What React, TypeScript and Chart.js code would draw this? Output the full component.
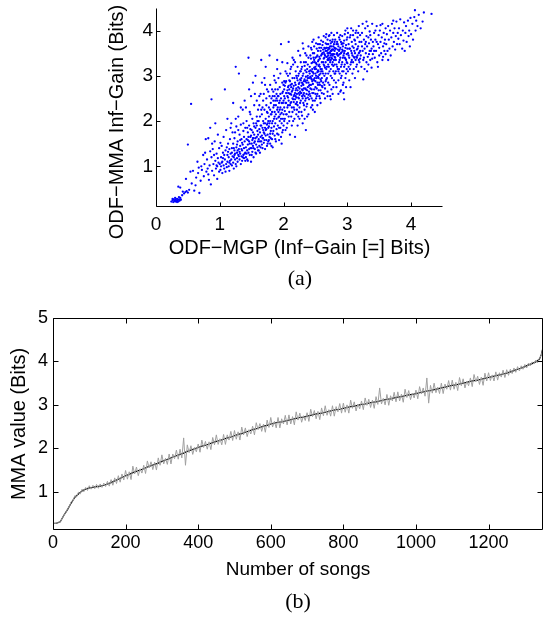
import React, { useEffect, useRef } from "react";
import { Chart, registerables } from "chart.js";
Chart.register(...registerables);

// ---------------- (a) scatter: ODF-MGP vs ODF-MMA ----------------
const scatterA: [number, number][] = [
[0.24,0.22],[0.26,0.25],[0.27,0.21],[0.28,0.27],[0.29,0.24],[0.30,0.22],[0.31,0.26],[0.32,0.23],[0.33,0.28],[0.34,0.25],[0.35,0.22],[0.36,0.27],[0.37,0.24],[0.38,0.30],[0.30,0.30],[0.26,0.28],[0.33,0.21],[0.36,0.32],[0.39,0.26],[0.35,0.55],[0.38,0.53],[0.42,0.44],[0.44,0.40],[0.41,0.36],[0.46,0.43],
[0.48,0.45],[0.50,0.42],[0.52,0.48],[0.47,0.72],[0.50,1.48],[0.55,2.38],[0.54,0.88],[0.58,0.90],[0.56,0.62],[0.60,0.46],[0.62,0.58],[0.63,0.75],[0.65,1.10],[0.66,0.85],[0.68,0.41],[0.70,0.68],[0.71,1.00],[0.72,0.92],[0.74,1.25],[0.75,0.78],[0.76,1.05],[0.78,1.60],[0.79,0.88],[0.77,1.30],[0.67,0.97],
[0.80,1.15],[0.81,0.95],[0.82,1.62],[0.83,0.70],[0.84,1.02],[0.85,1.85],[0.86,0.60],[0.87,2.48],[0.87,1.20],[0.88,0.90],[0.89,1.38],[0.90,1.05],[0.91,0.80],[0.92,1.55],[0.93,1.12],[0.94,0.95],[0.95,1.28],[0.96,1.00],[0.97,1.70],[0.98,1.08],[0.99,0.88],[0.99,1.40],[0.96,0.72],[0.93,1.95],[0.85,1.33],[0.82,0.82],[0.97,1.18],[0.91,1.25],[0.88,1.50],[0.95,1.02],
[1.00,1.05],[1.01,0.92],[1.02,1.20],[1.02,1.00],[1.03,1.45],[1.04,0.85],[1.04,1.10],[1.05,1.30],[1.06,1.02],[1.06,1.65],[1.07,0.95],[1.08,2.70],[1.08,1.15],[1.09,1.35],[1.10,1.05],[1.10,1.80],[1.11,0.98],[1.12,1.25],[1.12,1.10],[1.13,1.50],[1.14,1.00],[1.14,1.20],[1.15,1.38],[1.15,0.90],[1.16,1.12],[1.16,1.60],[1.17,1.05],[1.17,1.28],[1.18,1.95],[1.18,1.15],[1.19,1.40],[1.19,1.02],[1.20,1.22],[1.20,1.75],[1.05,1.18],[1.09,0.88],[1.13,1.32],[1.01,1.52],[1.07,1.25],[1.11,1.42],[1.15,1.08],[1.19,1.30],[1.03,1.08],[1.17,1.85],[1.12,2.05],
[1.21,1.08],[1.21,1.50],[1.22,1.20],[1.22,0.95],[1.23,1.35],[1.23,1.62],[1.24,1.15],[1.24,1.28],[1.25,3.20],[1.25,1.05],[1.26,1.42],[1.26,1.88],[1.27,1.18],[1.27,1.30],[1.28,1.55],[1.28,1.10],[1.29,1.25],[1.29,2.10],[1.30,1.38],[1.30,3.05],[1.31,1.15],[1.31,1.70],[1.32,1.28],[1.32,1.45],[1.33,1.05],[1.33,1.92],[1.34,1.22],[1.34,1.60],[1.35,1.35],[1.35,1.12],[1.36,1.48],[1.36,2.25],[1.37,1.25],[1.37,1.78],[1.38,1.40],[1.38,1.18],[1.39,1.55],[1.39,2.45],[1.40,1.30],[1.40,1.85],[1.22,1.40],[1.24,1.75],[1.26,1.00],[1.28,1.35],[1.30,1.22],[1.32,1.58],[1.34,1.38],[1.36,1.20],[1.38,1.65],[1.40,1.12],[1.23,1.25],[1.27,1.48],[1.31,1.32],[1.35,1.52],[1.39,1.28],[1.29,1.80],[1.33,2.30],[1.37,1.95],[1.25,2.05],[1.21,2.40],
];
const scatterB: [number, number][] = [
[1.41,1.42],[1.41,1.20],[1.42,1.60],[1.42,2.00],[1.43,1.35],[1.43,1.15],[1.44,1.75],[1.44,1.48],[1.45,3.40],[1.45,1.30],[1.46,1.90],[1.46,1.55],[1.47,1.25],[1.47,2.20],[1.48,1.40],[1.48,1.65],[1.49,1.10],[1.49,2.55],[1.50,1.50],[1.50,1.80],[1.51,1.32],[1.51,2.05],[1.52,1.62],[1.52,1.45],[1.53,1.20],[1.53,1.95],[1.54,1.70],[1.54,2.35],[1.55,1.38],[1.55,1.55],[1.56,1.85],[1.56,3.00],[1.57,1.48],[1.57,1.28],[1.58,2.10],[1.58,1.65],[1.59,1.42],[1.59,1.78],[1.60,2.25],[1.60,1.55],[1.42,1.28],[1.44,1.58],[1.46,1.38],[1.48,1.82],[1.50,1.25],[1.52,1.75],[1.54,1.52],[1.56,1.30],[1.58,1.90],[1.60,1.35],[1.43,1.85],[1.45,1.65],[1.47,1.50],[1.49,1.68],[1.51,1.58],[1.53,1.40],[1.55,2.60],[1.57,1.95],[1.59,2.00],[1.41,2.30],[1.46,2.70],[1.52,2.85],[1.58,2.45],[1.50,1.40],[1.54,1.88],[1.48,2.15],[1.56,1.62],[1.44,1.12],[1.60,1.70],[1.53,1.62],
[1.61,1.60],[1.61,2.00],[1.62,1.45],[1.62,2.35],[1.63,1.75],[1.63,1.30],[1.64,1.90],[1.64,2.60],[1.65,1.55],[1.65,3.35],[1.66,1.68],[1.66,2.15],[1.67,1.40],[1.67,1.85],[1.68,2.45],[1.68,1.62],[1.69,1.95],[1.69,1.52],[1.70,2.25],[1.70,1.72],[1.71,1.38],[1.71,2.80],[1.72,1.80],[1.72,2.05],[1.73,1.58],[1.73,2.50],[1.74,1.92],[1.74,1.45],[1.75,2.18],[1.75,1.70],[1.76,2.65],[1.76,1.55],[1.77,1.88],[1.77,2.30],[1.78,1.65],[1.78,3.45],[1.79,2.00],[1.79,1.50],[1.80,2.40],[1.80,1.78],[1.62,1.82],[1.64,1.65],[1.66,1.48],[1.68,2.00],[1.70,1.58],[1.72,1.68],[1.74,2.20],[1.76,1.85],[1.78,1.95],[1.80,1.62],[1.63,2.10],[1.65,1.90],[1.67,2.30],[1.69,1.75],[1.71,1.95],[1.73,1.82],[1.75,1.50],[1.77,2.10],[1.79,1.72],[1.61,1.35],[1.66,2.85],[1.70,2.95],[1.74,2.70],[1.78,2.55],[1.72,3.20],[1.64,1.42],[1.68,1.80],[1.76,2.00],[1.80,2.15],[1.62,2.55],[1.67,1.62],[1.73,2.35],[1.79,2.80],[1.71,1.85],[1.75,1.95],[1.69,2.60],[1.77,1.58],[1.65,2.25],[1.63,1.55],[1.79,2.25],
[1.81,1.85],[1.81,2.50],[1.82,1.60],[1.82,2.20],[1.83,2.00],[1.83,1.42],[1.84,2.65],[1.84,1.78],[1.85,2.35],[1.85,2.05],[1.86,1.68],[1.86,2.90],[1.87,1.95],[1.87,2.45],[1.88,1.55],[1.88,2.15],[1.89,2.60],[1.89,1.82],[1.90,3.15],[1.90,2.25],[1.91,1.90],[1.91,2.55],[1.92,1.70],[1.92,2.08],[1.93,2.40],[1.93,1.58],[1.94,2.75],[1.94,2.00],[1.95,1.85],[1.95,2.30],[1.96,3.70],[1.96,2.50],[1.97,1.95],[1.97,2.18],[1.98,2.62],[1.98,1.75],[1.99,2.40],[1.99,2.05],[2.00,2.80],[2.00,1.90],[1.82,1.95],[1.84,2.30],[1.86,2.10],[1.88,2.35],[1.90,1.72],[1.92,2.55],[1.94,2.25],[1.96,1.65],[1.98,2.85],[2.00,2.15],[1.81,2.15],[1.83,2.55],[1.85,1.88],[1.87,2.70],[1.89,2.05],[1.91,2.30],[1.93,2.10],[1.95,2.60],[1.97,2.40],[1.99,1.80],[1.85,3.00],[1.90,3.35],[1.95,3.05],[1.88,2.85],[1.92,2.95],[1.98,3.30],[1.83,1.72],[1.87,1.60],[1.93,1.85],[1.97,1.50],[1.84,2.45],[1.86,2.20],[1.90,2.45],[1.94,2.45],[1.96,2.05],[2.00,2.45],[1.82,2.70],[1.89,2.50],[1.91,2.70],[1.99,2.65],[1.95,2.15],[1.86,2.55],[1.92,2.20],[1.98,2.25],[1.81,1.45],
[2.01,2.30],[2.01,2.70],[2.02,2.05],[2.02,2.50],[2.03,2.85],[2.03,1.80],[2.04,2.40],[2.04,2.62],[2.05,2.15],[2.05,3.05],[2.06,2.55],[2.06,1.95],[2.07,2.75],[2.07,2.35],[2.08,3.75],[2.08,2.45],[2.09,2.20],[2.09,2.90],[2.10,2.60],[2.10,1.70],[2.11,2.40],[2.11,2.80],[2.12,2.10],[2.12,3.20],[2.13,2.65],[2.13,2.30],[2.14,2.95],[2.14,2.50],[2.15,2.00],[2.15,2.72],[2.16,2.42],[2.16,3.35],[2.17,2.58],[2.17,2.25],[2.18,2.85],[2.18,1.65],[2.19,2.68],[2.19,2.38],[2.20,3.00],[2.20,2.52],[2.02,2.22],[2.04,2.88],[2.06,2.68],[2.08,2.10],[2.10,2.35],[2.12,2.58],[2.14,2.20],[2.16,2.78],[2.18,2.48],[2.20,2.15],[2.01,2.55],[2.03,2.40],[2.05,2.62],[2.07,2.52],[2.09,2.70],[2.11,2.60],[2.13,2.82],[2.15,2.48],[2.17,2.95],[2.19,2.80],[2.03,3.10],[2.07,3.00],[2.11,3.15],[2.15,3.25],[2.19,3.10],[2.05,1.85],[2.09,2.00],[2.13,1.90],[2.17,2.05],[2.01,2.00],[2.06,2.30],[2.10,2.88],[2.14,2.68],[2.18,2.62],[2.02,2.78],[2.08,2.62],[2.12,2.42],[2.16,2.55],[2.20,2.72],[2.04,2.15],[2.06,3.28],[2.10,3.05],[2.14,3.40],[2.18,3.30],[2.12,2.75],[2.16,2.30],[2.08,2.78],[2.20,2.38],[2.01,2.88],[2.19,2.55],
[2.21,2.60],[2.21,2.95],[2.22,2.35],[2.22,3.20],[2.23,2.75],[2.23,2.10],[2.24,2.50],[2.24,3.05],[2.25,2.85],[2.25,2.30],[2.26,3.45],[2.26,2.65],[2.27,2.45],[2.27,2.90],[2.28,2.20],[2.28,3.15],[2.29,2.70],[2.29,2.55],[2.30,3.00],[2.30,1.95],[2.31,2.80],[2.31,2.40],[2.32,3.30],[2.32,2.62],[2.33,2.92],[2.33,2.25],[2.34,2.72],[2.34,3.50],[2.35,2.50],[2.35,1.80],[2.36,3.08],[2.36,2.85],[2.37,2.38],[2.37,2.68],[2.38,3.25],[2.38,2.95],[2.39,2.58],[2.39,2.15],[2.40,3.10],[2.40,2.78],[2.22,2.68],[2.24,2.82],[2.26,2.40],[2.28,2.62],[2.30,2.50],[2.32,2.88],[2.34,2.45],[2.36,2.60],[2.38,2.75],[2.40,2.48],[2.21,2.25],[2.23,3.00],[2.25,2.58],[2.27,3.10],[2.29,2.85],[2.31,3.05],[2.33,2.55],[2.35,2.98],[2.37,2.90],[2.39,3.40],[2.22,2.90],[2.24,2.20],[2.26,2.92],[2.28,2.78],[2.30,2.68],[2.32,2.35],[2.34,3.12],[2.36,2.32],[2.38,2.52],[2.40,2.95],[2.23,3.55],[2.27,3.30],[2.31,3.60],[2.35,3.30],[2.39,3.65],[2.25,2.05],[2.29,2.12],[2.33,2.05],[2.37,2.10],[2.21,2.42],[2.23,2.52],[2.25,2.72],[2.27,2.62],[2.29,3.20],[2.31,2.58],[2.33,3.22],[2.35,2.70],[2.37,3.15],[2.39,2.85],[2.24,2.62],[2.26,3.10],[2.28,2.95],[2.30,2.82],[2.32,2.72],[2.34,2.88],[2.36,3.45],[2.38,3.00],[2.40,2.65],[2.30,3.72],[2.22,1.90],
];
const scatterC: [number, number][] = [
[2.41,2.80],[2.41,3.20],[2.42,2.55],[2.42,3.45],[2.43,2.95],[2.43,2.30],[2.44,3.10],[2.44,2.70],[2.45,3.75],[2.45,2.88],[2.46,2.45],[2.46,3.30],[2.47,3.05],[2.47,2.62],[2.48,3.50],[2.48,2.90],[2.49,2.20],[2.49,3.15],[2.50,2.75],[2.50,3.40],[2.51,3.00],[2.51,2.50],[2.52,3.60],[2.52,3.25],[2.53,2.85],[2.53,2.35],[2.54,3.12],[2.54,3.55],[2.55,2.68],[2.55,3.35],[2.56,3.02],[2.56,2.55],[2.57,3.70],[2.57,3.20],[2.58,2.92],[2.58,2.40],[2.59,3.45],[2.59,3.10],[2.60,2.78],[2.60,3.30],[2.42,2.98],[2.44,3.28],[2.46,2.82],[2.48,3.18],[2.50,3.05],[2.52,2.95],[2.54,2.80],[2.56,3.25],[2.58,3.15],[2.60,2.95],[2.41,2.60],[2.43,3.38],[2.45,3.15],[2.47,3.40],[2.49,2.95],[2.51,3.28],[2.53,3.08],[2.55,2.95],[2.57,2.80],[2.59,3.62],[2.42,2.72],[2.44,2.50],[2.46,3.08],[2.48,2.70],[2.50,2.60],[2.52,2.72],[2.54,3.32],[2.56,2.85],[2.58,3.55],[2.60,3.48],[2.43,3.62],[2.47,3.80],[2.51,3.72],[2.55,3.85],[2.59,3.78],[2.45,2.35],[2.49,2.45],[2.53,2.60],[2.57,2.50],[2.41,3.05],[2.43,2.80],[2.45,2.62],[2.47,2.92],[2.49,3.30],[2.51,3.15],[2.53,3.45],[2.55,3.10],[2.57,3.38],[2.59,2.88],[2.42,3.12],[2.44,2.92],[2.46,3.50],[2.48,3.35],[2.50,3.20],[2.52,3.42],[2.54,2.98],[2.56,3.42],[2.58,3.05],[2.60,3.15],[2.45,3.00],[2.55,3.22],[2.50,2.88],[2.44,3.58],[2.52,2.55],[2.58,2.68],[2.46,2.25],[2.54,3.70],[2.60,2.62],[2.48,3.65],[2.56,3.62],
[2.61,3.10],[2.61,3.50],[2.62,2.85],[2.62,3.75],[2.63,3.25],[2.63,2.60],[2.64,3.40],[2.64,3.00],[2.65,3.60],[2.65,2.72],[2.66,3.30],[2.66,3.85],[2.67,3.15],[2.67,2.92],[2.68,3.55],[2.68,3.70],[2.69,3.35],[2.69,2.55],[2.70,3.45],[2.70,3.05],[2.71,3.62],[2.71,3.20],[2.72,3.90],[2.72,2.80],[2.73,3.50],[2.73,3.30],[2.74,3.72],[2.74,3.00],[2.75,3.40],[2.75,2.70],[2.76,3.58],[2.76,3.25],[2.77,3.80],[2.77,3.45],[2.78,3.10],[2.78,3.65],[2.79,3.35],[2.79,2.90],[2.80,3.55],[2.80,3.75],[2.62,3.30],[2.64,3.62],[2.66,3.05],[2.68,3.20],[2.70,3.70],[2.72,3.40],[2.74,3.55],[2.76,3.38],[2.78,3.48],[2.80,3.25],[2.61,2.75],[2.63,3.52],[2.65,3.18],[2.67,3.42],[2.69,3.80],[2.71,3.50],[2.73,3.65],[2.75,3.55],[2.77,3.30],[2.79,3.70],[2.62,3.05],[2.64,2.80],[2.66,3.55],[2.68,2.95],[2.70,3.25],[2.72,3.10],[2.74,3.35],[2.76,2.95],[2.78,2.75],[2.80,3.05],[2.63,3.88],[2.67,3.92],[2.71,3.88],[2.75,3.95],[2.79,3.90],[2.65,2.50],[2.69,2.65],[2.73,2.55],[2.77,2.60],[2.61,3.68],[2.63,3.38],[2.65,3.45],[2.67,3.62],[2.69,3.50],[2.71,3.35],[2.73,3.78],[2.75,3.65],[2.77,3.58],[2.79,3.48],[2.62,3.58],[2.64,3.22],[2.66,3.72],[2.68,3.42],[2.70,3.58],[2.72,3.60],[2.74,3.45],[2.76,3.75],[2.78,3.58],[2.80,3.42],[2.66,2.88],[2.70,2.85],[2.74,3.15],[2.78,3.22],[2.72,3.52],[2.76,3.48],[2.68,3.62],[2.64,3.48],[2.70,3.38],[2.80,3.62],[2.74,2.48],
[2.81,3.40],[2.81,3.80],[2.82,3.10],[2.82,3.60],[2.83,3.25],[2.83,2.75],[2.84,3.50],[2.84,3.95],[2.85,3.15],[2.85,3.70],[2.86,2.90],[2.86,3.45],[2.87,3.30],[2.87,3.85],[2.88,3.05],[2.88,3.58],[2.89,2.65],[2.89,3.40],[2.90,3.75],[2.90,3.20],[2.91,3.00],[2.91,3.52],[2.92,3.88],[2.92,3.30],[2.93,2.80],[2.93,3.65],[2.94,3.10],[2.94,3.45],[2.95,2.48],[2.95,3.78],[2.96,3.25],[2.96,3.55],[2.97,2.95],[2.97,4.00],[2.98,3.35],[2.98,3.68],[2.99,3.15],[2.99,3.48],[3.00,3.85],[3.00,3.28],[2.82,3.35],[2.84,3.20],[2.86,3.65],[2.88,3.35],[2.90,3.50],[2.92,3.10],[2.94,3.72],[2.96,3.40],[2.98,3.05],[3.00,3.60],[2.81,3.05],[2.83,3.70],[2.85,3.45],[2.87,3.55],[2.89,3.90],[2.91,3.25],[2.93,3.40],[2.95,3.20],[2.97,3.62],[2.99,3.80],[2.82,2.85],[2.86,3.10],[2.90,2.95],[2.94,2.85],[2.98,2.75],[2.84,3.75],[2.88,3.80],[2.92,3.72],[2.96,3.92],[3.00,4.05],[2.81,3.60],[2.85,3.58],[2.89,3.62],[2.93,3.55],[2.97,3.38],[2.83,3.48],[2.87,3.15],[2.91,3.70],[2.95,3.50],[2.99,3.30],[2.86,2.60],[2.90,2.68],[2.94,2.62],[2.88,3.48],[2.92,3.58],
[3.01,3.50],[3.01,3.95],[3.02,3.20],[3.02,3.70],[3.03,2.90],[3.03,3.40],[3.04,3.85],[3.04,3.60],[3.05,3.25],[3.05,2.75],[3.06,3.55],[3.06,4.05],[3.07,3.35],[3.07,3.75],[3.08,3.05],[3.08,3.45],[3.09,3.90],[3.09,3.30],[3.10,3.62],[3.10,3.15],[3.11,3.40],[3.11,3.80],[3.12,3.50],[3.12,2.95],[3.13,3.70],[3.13,3.35],[3.14,4.00],[3.14,3.42],[3.15,3.25],[3.15,3.58],[3.16,3.85],[3.16,3.45],[3.17,3.10],[3.17,3.65],[3.18,3.50],[3.18,4.10],[3.19,3.30],[3.19,3.75],[3.20,3.55],[3.20,3.38],[3.02,3.45],[3.04,3.15],[3.06,3.30],[3.08,3.65],[3.10,3.42],[3.12,3.78],[3.14,3.20],[3.16,3.60],[3.18,3.35],[3.20,3.90],[3.03,3.60],[3.07,3.50],[3.11,3.55],[3.15,3.40],[3.19,3.52],[3.05,3.90],[3.09,4.00],[3.13,3.95],[3.17,3.95],[3.01,3.10],
[3.21,3.45],[3.22,3.75],[3.22,3.20],[3.23,3.95],[3.24,3.55],[3.25,2.92],[3.25,3.35],[3.26,3.80],[3.27,3.60],[3.27,3.15],[3.28,4.05],[3.29,3.50],[3.30,3.30],[3.30,3.88],[3.31,3.65],[3.32,3.42],[3.32,4.10],[3.33,3.25],[3.34,3.72],[3.35,3.55],[3.35,3.98],[3.36,3.35],[3.37,3.80],[3.38,3.60],[3.38,3.18],[3.39,4.15],[3.40,3.48],[3.40,3.75],[3.23,3.65],[3.26,3.40],[3.29,3.75],[3.31,3.10],[3.34,3.48],[3.36,3.90],[3.39,3.38],[3.24,4.15],[3.28,3.70],[3.33,3.85],[3.37,3.55],[3.30,4.20],
[3.41,3.65],[3.42,3.95],[3.43,3.40],[3.44,3.80],[3.45,3.55],[3.46,4.10],[3.47,3.30],[3.48,3.70],[3.49,3.90],[3.50,3.45],[3.50,3.62],[3.51,4.00],[3.52,3.75],[3.53,3.50],[3.54,3.85],[3.55,3.35],[3.55,4.15],[3.56,3.65],[3.57,3.95],[3.58,3.55],[3.59,3.80],[3.60,4.05],[3.60,3.48],[3.42,3.55],[3.46,3.75],[3.48,3.20],[3.52,4.12],[3.56,3.42],[3.58,3.72],[3.44,4.00],
[3.61,3.70],[3.62,3.92],[3.63,3.55],[3.64,4.10],[3.65,3.80],[3.66,3.60],[3.67,4.00],[3.68,3.45],[3.69,3.85],[3.70,4.15],[3.71,3.65],[3.72,3.95],[3.73,3.75],[3.74,4.05],[3.75,3.58],[3.76,3.88],[3.77,4.20],[3.78,3.70],[3.79,3.95],[3.80,3.82],[3.64,3.35],[3.72,4.22],
[3.81,4.05],[3.82,3.70],[3.83,4.25],[3.84,3.90],[3.86,3.60],[3.87,4.00],[3.88,3.78],[3.89,4.18],[3.90,3.55],[3.91,3.95],[3.92,4.10],[3.93,3.75],[3.95,4.22],[3.96,3.88],[3.97,4.00],[3.98,3.65],[3.99,4.28],[4.00,3.92],
[4.02,4.15],[4.03,3.80],[4.05,4.30],[4.06,4.45],[4.07,4.00],[4.08,4.22],[4.10,4.10],[4.12,4.35],[4.15,4.05],[4.18,4.20],[4.20,4.40],[4.32,4.37],
];
const xLimitsA = [0, 4.5];
const yLimitsA = [0.1, 4.5];
const xTitleA = "ODF\u2212MGP (Inf\u2212Gain [=] Bits)";
const yTitleA = "ODF\u2212MMA Inf\u2212Gain (Bits)";
const captionA = "(a)";

// ---------------- (b) MMA value per song ----------------
// sorted MMA value (black)
const sortedMMA: [number, number][] = [
[0,0.27],[10,0.28],[20,0.31],[30,0.46],[40,0.59],[50,0.74],[60,0.87],[70,0.95],[80,1.02],[90,1.06],[100,1.09],[110,1.10],[120,1.12],[130,1.13],[140,1.15],[150,1.18],[160,1.21],[170,1.25],[180,1.29],[190,1.33],[200,1.37],
[210,1.40],[220,1.44],[230,1.47],[240,1.50],[250,1.53],[260,1.57],[270,1.60],[280,1.63],[290,1.66],[300,1.70],[310,1.73],[320,1.76],[330,1.80],[340,1.83],[350,1.86],[360,1.89],[370,1.93],[380,1.96],[390,1.99],[400,2.02],
[410,2.05],[420,2.07],[430,2.10],[440,2.13],[450,2.16],[460,2.18],[470,2.21],[480,2.24],[490,2.26],[500,2.29],[510,2.32],[520,2.34],[530,2.37],[540,2.40],[550,2.43],[560,2.45],[570,2.48],[580,2.51],[590,2.53],[600,2.56],
[610,2.58],[620,2.60],[630,2.61],[640,2.63],[650,2.65],[660,2.67],[670,2.69],[680,2.71],[690,2.72],[700,2.74],[710,2.76],[720,2.78],[730,2.80],[740,2.81],[750,2.83],[760,2.85],[770,2.87],[780,2.89],[790,2.90],[800,2.92],
[810,2.94],[820,2.96],[830,2.97],[840,2.99],[850,3.01],[860,3.02],[870,3.04],[880,3.06],[890,3.07],[900,3.09],[910,3.11],[920,3.13],[930,3.14],[940,3.16],[950,3.18],[960,3.19],[970,3.21],[980,3.23],[990,3.24],[1000,3.26],
[1010,3.28],[1020,3.30],[1030,3.32],[1040,3.33],[1050,3.35],[1060,3.37],[1070,3.39],[1080,3.41],[1090,3.43],[1100,3.45],[1110,3.46],[1120,3.48],[1130,3.50],[1140,3.52],[1150,3.54],[1160,3.56],[1170,3.57],[1180,3.59],[1190,3.61],[1200,3.63],
[1210,3.65],[1220,3.67],[1230,3.69],[1240,3.71],[1250,3.73],[1260,3.76],[1270,3.79],[1280,3.82],[1290,3.85],[1300,3.88],[1310,3.92],[1320,3.95],[1330,3.99],[1340,4.05],[1345,4.15],[1350,4.32],
];
// per-song estimates (grey), one value every GRAY_STEP songs starting at song 0
const GRAY_STEP = 5;
const songEstimates: number[] = [
0.27,0.27,0.28,0.29,0.31,0.38,0.46,0.52,0.60,0.66,
0.77,0.79,0.91,0.88,0.99,0.95,1.06,1.00,1.10,1.03,
1.14,1.06,1.15,1.07,1.17,1.08,1.18,1.10,1.20,1.12,
1.24,1.13,1.28,1.15,1.32,1.19,1.37,1.22,1.41,1.27,
1.49,1.29,1.46,1.28,1.59,1.41,1.57,1.37,1.53,1.43,
1.61,1.42,1.71,1.55,1.69,1.51,1.68,1.50,1.78,1.61,
1.85,1.64,1.77,1.63,1.87,1.64,1.87,1.76,1.96,1.75,
1.98,1.78,2.24,1.61,2.08,1.90,2.06,1.86,2.02,1.92,
2.10,1.91,2.19,2.02,2.16,1.98,2.15,1.97,2.25,2.08,
2.31,2.09,2.22,2.08,2.32,2.09,2.31,2.19,2.39,2.18,
2.41,2.21,2.38,2.19,2.49,2.31,2.47,2.27,2.43,2.33,
2.51,2.31,2.59,2.43,2.57,2.39,2.56,2.37,2.65,2.48,
2.71,2.49,2.62,2.47,2.71,2.47,2.68,2.56,2.76,2.54,
2.77,2.56,2.73,2.54,2.84,2.65,2.81,2.60,2.75,2.64,
2.82,2.62,2.90,2.73,2.87,2.68,2.85,2.66,2.93,2.75,
2.98,2.76,2.89,2.74,2.98,2.74,2.96,2.84,3.03,2.81,
3.04,2.83,3.00,2.81,3.11,2.92,3.07,2.86,3.02,2.91,
3.09,2.89,3.16,2.99,3.13,2.94,3.11,2.92,3.19,3.01,
3.39,3.02,3.15,3.00,3.24,2.99,3.21,3.09,3.29,3.07,
3.30,3.09,3.25,3.06,3.36,3.17,3.33,3.12,3.27,3.16,
3.34,3.14,3.42,3.25,3.39,3.20,3.62,3.04,3.45,3.27,
3.50,3.28,3.41,3.26,3.50,3.26,3.48,3.36,3.56,3.34,
3.57,3.36,3.52,3.33,3.63,3.44,3.60,3.39,3.55,3.44,
3.62,3.42,3.70,3.53,3.66,3.47,3.64,3.45,3.73,3.55,
3.74,3.56,3.69,3.55,3.76,3.57,3.74,3.64,3.80,3.63,
3.81,3.68,3.82,3.72,3.85,3.75,3.88,3.78,3.90,3.82,
3.93,3.85,3.96,3.90,3.99,3.94,4.03,3.97,4.07,4.14,
4.30,
];
const xLimitsB = [0, 1350];
const yLimitsB = [0.12, 5];
const xTitleB = "Number of songs";
const yTitleB = "MMA value (Bits)";
const captionB = "(b)";

const SANS = '"Liberation Sans", Arial, Helvetica, sans-serif';
const SERIF = '"Liberation Serif", "Times New Roman", serif';

function framePlugin(box: boolean, len: number) {
  return {
    id: "frame",
    afterDatasetsDraw(chart: any) {
      const { ctx, chartArea: a, scales } = chart;
      const xs = scales.x, ys = scales.y;
      const L = Math.round(a.left) + 0.5;
      const R = Math.round(a.right) - 0.5;
      const T = Math.round(a.top) + 0.5;
      const B = Math.round(a.bottom) - 0.5;
      ctx.save();
      ctx.strokeStyle = "#000";
      ctx.lineWidth = 1;
      ctx.beginPath();
      ctx.moveTo(L, T);
      ctx.lineTo(L, B);
      ctx.lineTo(R, B);
      if (box) {
        ctx.lineTo(R, T);
        ctx.lineTo(L, T);
      }
      for (const t of xs.ticks) {
        const p = Math.round(xs.getPixelForValue(t.value)) + 0.5;
        ctx.moveTo(p, B);
        ctx.lineTo(p, B - len);
        if (box) {
          ctx.moveTo(p, T);
          ctx.lineTo(p, T + len);
        }
      }
      for (const t of ys.ticks) {
        const p = Math.round(ys.getPixelForValue(t.value)) + 0.5;
        ctx.moveTo(L, p);
        ctx.lineTo(L + len, p);
        if (box) {
          ctx.moveTo(R, p);
          ctx.lineTo(R - len, p);
        }
      }
      ctx.stroke();
      ctx.restore();
    },
  };
}

const yTitleAPlugin = {
  id: "yTitleA",
  afterDraw(chart: any) {
    const { ctx, chartArea: a } = chart;
    ctx.save();
    ctx.font = `20px ${SANS}`;
    ctx.fillStyle = "#000";
    ctx.textAlign = "center";
    ctx.textBaseline = "middle";
    ctx.translate(a.left - 39, (a.top + a.bottom) / 2 + 14.5);
    ctx.rotate(-Math.PI / 2);
    ctx.fillText(yTitleA, 0, 0);
    ctx.restore();
  },
};

const plainTick = (v: any) => String(v);

export default function App() {
  const refA = useRef<HTMLCanvasElement>(null);
  const refB = useRef<HTMLCanvasElement>(null);

  useEffect(() => {
    const chartA = new Chart(refA.current!, {
      type: "scatter",
      data: {
        datasets: [
          {
            data: [...scatterA, ...scatterB, ...scatterC] as any,
            backgroundColor: "#0000ff",
            borderWidth: 0,
            pointRadius: 1.15,
            pointStyle: "circle",
          },
        ],
      },
      options: {
        animation: false,
        responsive: false,
        devicePixelRatio: 1,
        events: [],
        layout: { padding: { left: 107, right: 157, top: 48, bottom: 40 } },
        plugins: { legend: { display: false }, tooltip: { enabled: false } },
        scales: {
          x: {
            type: "linear",
            min: xLimitsA[0],
            max: xLimitsA[1],
            grid: { display: false, drawTicks: false },
            border: { display: false },
            ticks: { stepSize: 1, includeBounds: false, color: "#000", font: { family: SANS, size: 19 }, padding: 6, maxRotation: 0, callback: plainTick },
            title: { display: true, text: xTitleA, color: "#000", font: { family: SANS, size: 20, lineHeight: 1.2 }, padding: 0 },
            afterFit: (s: any) => { s.height = 53; },
          },
          y: {
            type: "linear",
            min: yLimitsA[0],
            max: yLimitsA[1],
            grid: { display: false, drawTicks: false },
            border: { display: false },
            ticks: { stepSize: 1, includeBounds: false, color: "#000", font: { family: SANS, size: 19 }, padding: 3, callback: plainTick },
            title: { display: false },
            afterFit: (s: any) => { s.width = 49; },
          },
        },
      },
      plugins: [framePlugin(false, 4), yTitleAPlugin],
    });

    const chartB = new Chart(refB.current!, {
      type: "line",
      data: {
        datasets: [
          {
            data: songEstimates.map((v, i) => ({ x: i * GRAY_STEP, y: v })),
            borderColor: "#a0a0a0",
            borderWidth: 1,
            pointRadius: 0,
            tension: 0,
          },
          {
            data: sortedMMA as any,
            borderColor: "#000000",
            borderWidth: 1.2,
            pointRadius: 0,
            tension: 0,
          },
        ],
      },
      options: {
        animation: false,
        responsive: false,
        devicePixelRatio: 1,
        events: [],
        layout: { padding: { left: 9, right: 57, top: 58, bottom: 39 } },
        plugins: { legend: { display: false }, tooltip: { enabled: false } },
        scales: {
          x: {
            type: "linear",
            min: xLimitsB[0],
            max: xLimitsB[1],
            grid: { display: false, drawTicks: false },
            border: { display: false },
            ticks: { stepSize: 200, includeBounds: false, color: "#000", font: { family: SANS, size: 18 }, padding: 2, maxRotation: 0, callback: plainTick },
            title: { display: true, text: xTitleB, color: "#000", font: { family: SANS, size: 19, lineHeight: 1.2 }, padding: 0 },
            afterFit: (s: any) => { s.height = 51; },
          },
          y: {
            type: "linear",
            min: yLimitsB[0],
            max: yLimitsB[1],
            grid: { display: false, drawTicks: false },
            border: { display: false },
            ticks: { stepSize: 1, includeBounds: false, color: "#000", font: { family: SANS, size: 18 }, padding: 5, callback: plainTick },
            title: { display: true, text: yTitleB, color: "#000", font: { family: SANS, size: 20, lineHeight: 1 }, padding: 0 },
            afterFit: (s: any) => { s.width = 44; },
          },
        },
      },
      plugins: [framePlugin(true, 5)],
    });

    return () => {
      chartA.destroy();
      chartB.destroy();
    };
  }, []);

  const capStyle = (top: number, cx: number): React.CSSProperties => ({
    position: "absolute",
    left: cx - 50,
    top,
    width: 100,
    textAlign: "center",
    fontFamily: SERIF,
    fontSize: 22,
    lineHeight: "22px",
    color: "#000",
  });

  return (
    <div style={{ position: "fixed", left: 0, top: 0, width: 544, height: 619, overflow: "hidden", background: "#fff" }}>
      <canvas ref={refA} width={600} height={340} style={{ position: "absolute", left: 0, top: -40, width: 600, height: 340 }} />
      <canvas ref={refB} width={600} height={360} style={{ position: "absolute", left: 0, top: 260, width: 600, height: 360 }} />
      <div style={capStyle(267, 300)}>{captionA}</div>
      <div style={capStyle(590, 298)}>{captionB}</div>
    </div>
  );
}
